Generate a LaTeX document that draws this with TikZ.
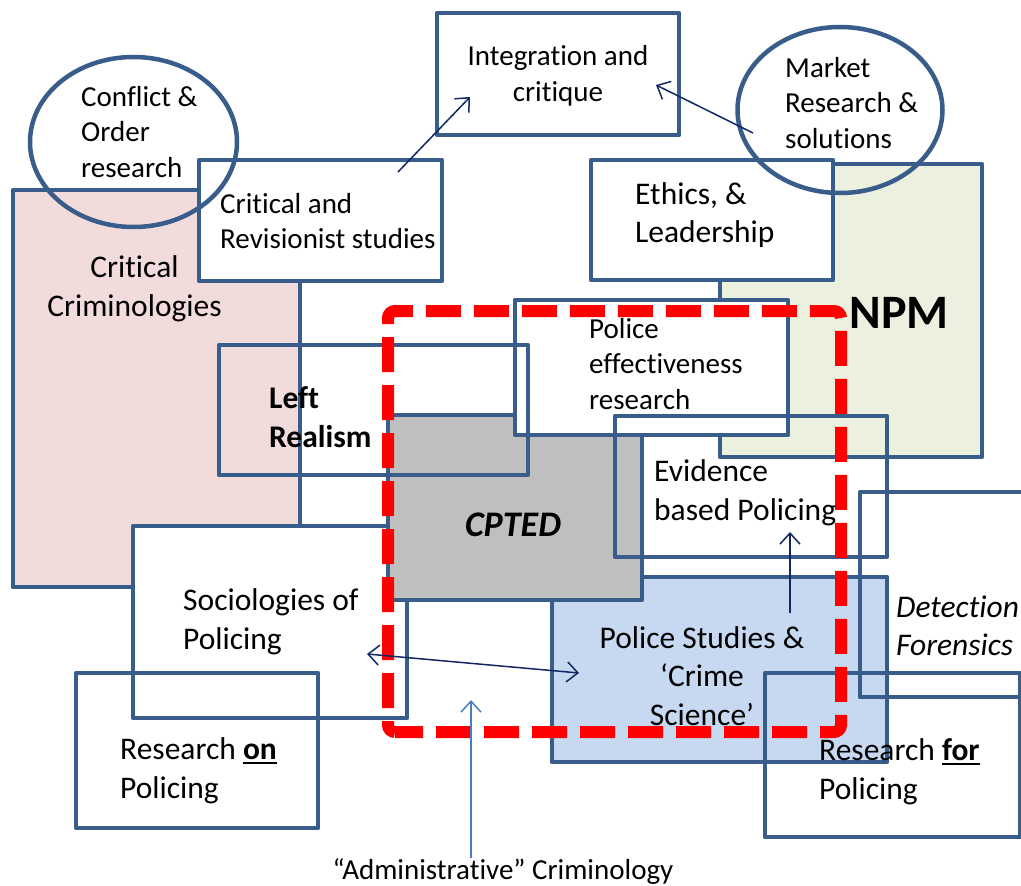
\documentclass[tikz,border=0pt]{standalone}
\usepackage{fontspec}
\setmainfont{Carlito}[Ligatures={NoCommon}]
\usetikzlibrary{arrows.meta,shapes.geometric}
\definecolor{bord}{RGB}{56,93,138}
\definecolor{pinkf}{RGB}{242,220,219}
\definecolor{greenf}{RGB}{235,241,222}
\definecolor{greyf}{RGB}{191,191,191}
\definecolor{bluef}{RGB}{198,217,241}
\definecolor{navy}{RGB}{18,38,100}
\definecolor{lblue}{RGB}{74,126,187}
\definecolor{redd}{RGB}{255,0,0}
\newcommand{\fsA}{\fontsize{29}{35.5}\selectfont}
\newcommand{\fsB}{\fontsize{31.5}{38.5}\selectfont}
\newcommand{\ulb}[1]{\setbox0\hbox{\bfseries #1}\rlap{\rule[-4.5pt]{\wd0}{2.6pt}}\box0}
\begin{document}
\begin{tikzpicture}[x=1pt,y=-1pt,
  box/.style={draw=bord,line width=4.5pt,line join=round,rectangle,inner sep=0pt,outer sep=0pt,anchor=north west},
  oval/.style={draw=bord,line width=4.5pt,ellipse,inner sep=0pt,outer sep=0pt},
  lbl/.style={inner sep=0pt,anchor=west,align=left,text=black},
  clbl/.style={inner sep=0pt,anchor=center,align=center,text=black},
  barb/.tip={Straight Barb[length=11pt,width=20pt]},
  conn/.style={draw=navy,line width=1.5pt},
  reddash/.style={draw=redd,line width=12pt,rounded corners=7pt,dash pattern=on 35pt off 13pt,dash phase=7pt},
]
\useasboundingbox (0,0) rectangle (1021,886);
\clip (0,0) rectangle (1021,886);
% filled boxes
\node[box,fill=pinkf,minimum width=287pt,minimum height=397pt] (critcrim) at (13,190) {};
\node[box,fill=white,minimum width=243pt,minimum height=121pt] (critrev) at (199,160) {};
\node[box,fill=greenf,minimum width=262pt,minimum height=293pt] (npm) at (720,164) {};
\node[box,fill=white,minimum width=242pt,minimum height=120pt] (ethics) at (591,160) {};
\node[box,fill=white,minimum width=242pt,minimum height=122pt] (integ) at (437,13) {};
\node[box,fill=bluef,minimum width=335pt,minimum height=185pt] (polstud) at (552,577) {};
\node[box,fill=white,minimum width=274pt,minimum height=192pt] (socio) at (133,526) {};
\node[box,fill=greyf,minimum width=254pt,minimum height=185pt] (cpted) at (388,415) {};
\node[box,fill=white,minimum width=273pt,minimum height=135pt] (poleff) at (515,300) {};
% unfilled boxes
\node[box,minimum width=309pt,minimum height=130pt] (leftreal) at (219,345) {};
\node[box,minimum width=272pt,minimum height=141pt] (evid) at (615,416) {};
\node[box,minimum width=190pt,minimum height=205pt] (detect) at (860,492) {};
\node[box,minimum width=242pt,minimum height=155pt] (reson) at (76,673) {};
\node[box,minimum width=255pt,minimum height=164pt] (resfor) at (765,673) {};
% ellipses
\node[oval,minimum width=207pt,minimum height=170pt] (conflict) at (133.5,142) {};
\node[oval,minimum width=205pt,minimum height=166pt] (market) at (840,110) {};
% red dashed region
\coordinate (rbl) at (388,732); \coordinate (rbr) at (841,732);
\coordinate (rtr) at (841,311); \coordinate (rtl) at (388,311);
\draw[reddash] (rbl) -- (rbr) -- (rtr) -- (rtl) -- cycle;
% connectors
\coordinate (a1s) at (398,172); \coordinate (a1e) at (470,97);
\draw[conn,-barb] (a1s) -- (a1e);
\coordinate (a2s) at (753,133); \coordinate (a2e) at (656,85);
\draw[conn,-barb] (a2s) -- (a2e);
\coordinate (a3s) at (367,654); \coordinate (a3e) at (579,673);
\draw[conn,barb-barb] (a3s) -- (a3e);
\coordinate (a4s) at (790,613); \coordinate (a4e) at (790,532);
\draw[conn,-barb] (a4s) -- (a4e);
\coordinate (a5s) at (471,858); \coordinate (a5e) at (471,700);
\draw[draw=lblue,line width=1.5pt,-barb] (a5s) -- (a5e);
% texts
\node[lbl,font=\fsA] (tconf) at (81,132) {Conflict \&\\Order\\research};
\node[clbl,font=\fsA] (tinteg) at (558,76) {Integration and\\critique};
\node[lbl,font=\fsA] (tmarket) at (785,103) {Market\\Research \&\\solutions};
\node[lbl,font=\fsA] (tcritrev) at (220,221) {Critical and\\Revisionist studies};
\node[lbl,font=\fsB] (tethics) at (635,215) {Ethics, \&\\Leadership};
\node[clbl,font=\fsB] (tcritcrim) at (134.5,289) {Critical\\Criminologies};
\node[clbl,font=\fontsize{48}{56}\selectfont\bfseries] (tnpm) at (899,313) {NPM};
\node[lbl,font=\fsA] (tpoleff) at (589,364) {Police\\effectiveness\\research};
\node[lbl,font=\fsB\bfseries] (tleft) at (269,417) {Left\\Realism};
\node[lbl,font=\fsB] (tevid) at (654,493) {Evidence\\based Policing};
\node[clbl,font=\fontsize{36}{42}\selectfont\bfseries\itshape] (tcpted) at (513,525) {CPTED};
\node[lbl,font=\fsB] (tsocio) at (183,622) {Sociologies of\\Policing};
\node[clbl,font=\fsB] (tpolstud) at (702,676) {Police Studies \&\\‘Crime\\Science’};
\node[lbl,font=\fsB\itshape] (tdetect) at (896,626) {Detection\\Forensics};
\node[lbl,font=\fsB] (treson) at (120,771) {Research \ulb{on}\\Policing};
\node[lbl,font=\fsB] (tresfor) at (819,772) {Research \ulb{for}\\Policing};
\node[clbl,font=\fsA] (tadmin) at (503,872) {“Administrative” Criminology};
\end{tikzpicture}
\end{document}
